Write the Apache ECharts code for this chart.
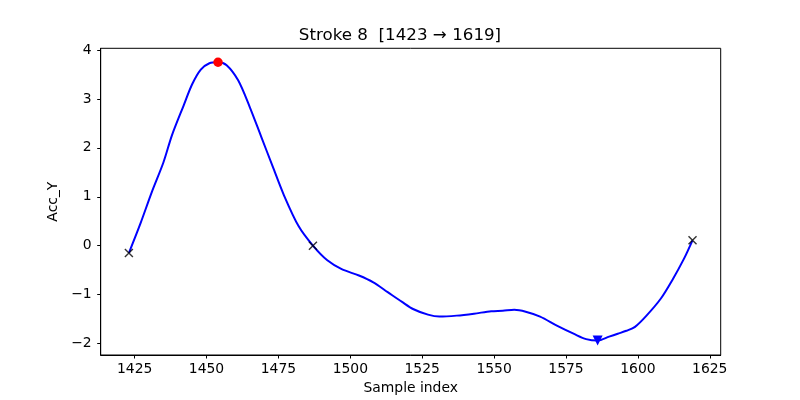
<!doctype html>
<html lang="en">
<head>
    <meta charset="UTF-8">
    <title>Stroke 8</title>
    <script src="https://cdn.jsdelivr.net/npm/echarts@6/dist/echarts.min.js"></script>
</head>
<body style="margin:0;background:#fff;">

<div id="chart" style="width: 800px;height: 400px;"></div>
<script type="text/javascript">
    // curve
    const sampleIdx = [1423, 1427, 1431, 1435, 1438, 1442, 1445, 1448, 1451, 1454, 1457, 1461,
        1465, 1469, 1473, 1477, 1482, 1487, 1492, 1497, 1503, 1508, 1513, 1518, 1522, 1527,
        1531, 1537, 1543, 1549, 1553, 1557, 1561, 1566, 1572, 1578, 1582, 1586, 1590, 1593,
        1596, 1599, 1603, 1608, 1612, 1616, 1619];
    const accY = [-0.15, 0.45, 1.10, 1.70, 2.26, 2.86, 3.30, 3.60, 3.73, 3.75, 3.69, 3.38,
        2.84, 2.23, 1.62, 1.02, 0.40, 0.00, -0.30, -0.48, -0.61, -0.75, -0.95, -1.15, -1.30, -1.41,
        -1.45, -1.43, -1.39, -1.34, -1.33, -1.31, -1.35, -1.45, -1.64, -1.81, -1.91, -1.94, -1.86, -1.80,
        -1.74, -1.66, -1.43, -1.08, -0.70, -0.27, 0.11];

    const crossIdx = [1423, 1487, 1619];
    const crossVal = [-0.15, 0.00, 0.11];
    const peakPoint = [1454, 3.75];
    const troughPoint = [1586, -1.94];

    const xTicks = [1425, 1450, 1475, 1500, 1525, 1550, 1575, 1600, 1625];
    const yTicks = [-2, -1, 0, 1, 2, 3, 4];

    const fontName = 'DejaVu Sans';
    const minus = function (v) { return String(v).replace('-', '\u2212'); };

    let lineData = sampleIdx.map(function (s, i) { return [s, accY[i]]; });
    let crossData = crossIdx.map(function (s, i) { return [s, crossVal[i]]; });

    let chart = echarts.init(document.getElementById('chart'));
    chart.setOption({
        animation: false,
        backgroundColor: '#fff',
        title: {
            text: 'Stroke 8  [1423 \u2192 1619]',
            left: 'center',
            top: 22,
            textStyle: {fontFamily: fontName, fontSize: 16.7, fontWeight: 'normal', color: '#000'}
        },
        grid: {
            left: 100.7, right: 79.3, top: 48.3, bottom: 44,
            show: true, borderColor: '#000', borderWidth: 1
        },
        xAxis: {
            type: 'value',
            min: 1413.2,
            max: 1628.8,
            name: 'Sample index',
            nameLocation: 'middle',
            nameGap: 26,
            nameTextStyle: {fontFamily: fontName, fontSize: 13.9, color: '#000'},
            axisLine: {onZero: false, lineStyle: {color: '#000', width: 1}},
            axisTick: {length: 3.5, lineStyle: {color: '#000'}, customValues: xTicks},
            axisLabel: {margin: 7, fontFamily: fontName, fontSize: 13.9, color: '#000',
                customValues: xTicks, formatter: minus},
            splitLine: {show: false}
        },
        yAxis: {
            type: 'value',
            min: -2.235,
            max: 4.035,
            name: 'Acc_Y',
            nameLocation: 'middle',
            nameGap: 30,
            nameTextStyle: {fontFamily: fontName, fontSize: 13.9, color: '#000'},
            axisLine: {show: true, onZero: false, lineStyle: {color: '#000', width: 1}},
            axisTick: {show: true, length: 3.5, lineStyle: {color: '#000'}, customValues: yTicks},
            axisLabel: {margin: 9, fontFamily: fontName, fontSize: 13.9, color: '#000',
                customValues: yTicks, formatter: minus},
            splitLine: {show: false}
        },
        series: [
            {
                type: 'line',
                data: lineData,
                smooth: 0.3,
                showSymbol: false,
                lineStyle: {color: '#0000ff', width: 2},
                z: 2
            },
            {
                type: 'scatter',
                data: crossData,
                symbol: 'path://M0,0L10,10M10,0L0,10',
                symbolSize: 8,
                itemStyle: {color: 'none', borderColor: '#000', borderWidth: 1.4},
                z: 3
            },
            {
                type: 'scatter',
                data: [peakPoint],
                symbol: 'circle',
                symbolSize: 9.5,
                itemStyle: {color: '#ff0000', opacity: 1},
                z: 3
            },
            {
                type: 'scatter',
                data: [troughPoint],
                symbol: 'triangle',
                symbolRotate: 180,
                symbolSize: 10,
                itemStyle: {color: '#0000ff', opacity: 1},
                z: 3
            }
        ]
    });
</script>
</body>
</html>
